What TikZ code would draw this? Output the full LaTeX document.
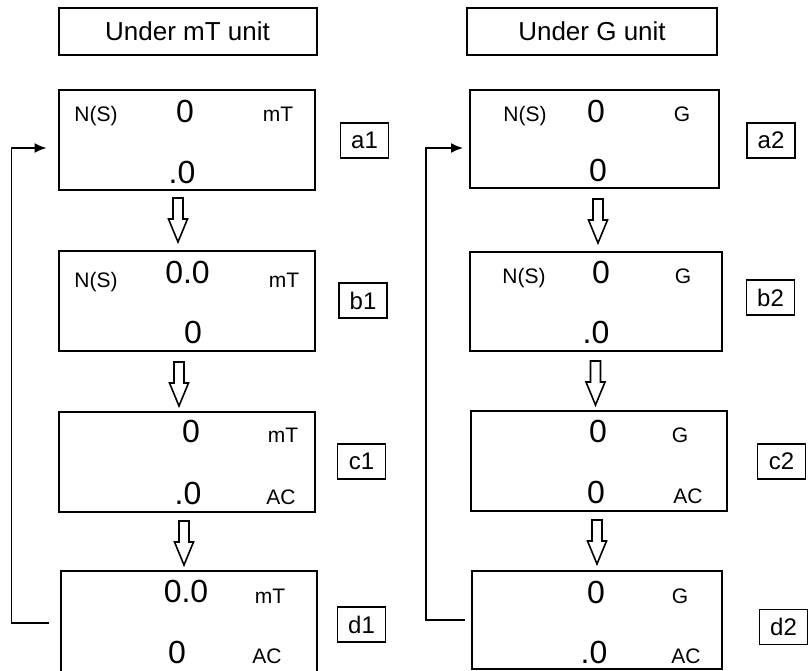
\documentclass[tikz,border=0pt]{standalone}
\usepackage{fontspec}
\setmainfont{Liberation Sans}
\usetikzlibrary{arrows.meta}
\begin{document}
\begin{tikzpicture}[x=1pt, y=-1pt, >={Latex[length=12pt,width=10pt]}, line width=2pt,
    panel/.style={draw, minimum width=256pt, minimum height=100pt},
    titlebox/.style={draw, minimum width=258pt, minimum height=47pt, font=\fontsize{26}{29}\selectfont},
    tagbox/.style={draw, line width=1.7pt, minimum width=48pt, minimum height=35pt, font=\fontsize{24}{27}\selectfont},
    big/.style={anchor=base, font=\fontsize{32}{35}\selectfont},
    small/.style={anchor=base, font=\fontsize{21}{24}\selectfont},
    downarrow/.pic={\draw[line width=1.6pt] (-5,0) -- (5,0) -- (5,21) -- (9.5,21) -- (0,44) -- (-9.5,21) -- (-5,21) -- cycle;}]
    \useasboundingbox (0,0) rectangle (808,671);

    % the two titles
    \node[titlebox] (tmT) at (187.5,31.5) {Under mT unit};
    \node[titlebox, minimum width=250pt] (tG) at (592,31.5) {Under G unit};

    % left column (mT)
    \node[panel] (a1) at (186.5,140) {};
    \node[small] at (96,122) {N(S)};
    \node[big] at (185,123) {0};
    \node[small] at (278,122) {mT};
    \node[big] at (182,184) {.0};
    \node[tagbox] (ta1) at (364.5,140.5) {a1};

    \node[panel] (b1) at (186.5,300.5) {};
    \node[small] at (96,287) {N(S)};
    \node[big] at (187.5,283) {0.0};
    \node[small] at (284,287) {mT};
    \node[big] at (193,343) {0};
    \node[tagbox] (tb1) at (363,300.5) {b1};

    \node[panel] (c1) at (187,461.5) {};
    \node[big] at (191,442) {0};
    \node[small] at (283,442) {mT};
    \node[big] at (188,504) {.0};
    \node[small] at (281,504) {AC};
    \node[tagbox] (tc1) at (361.5,461.5) {c1};

    \node[panel, minimum height=104pt] (d1) at (188.5,623) {};
    \node[big] at (186,602) {0.0};
    \node[small] at (270,603) {mT};
    \node[big] at (177,663) {0};
    \node[small] at (267,663) {AC};
    \node[tagbox] (td1) at (361.5,624.5) {d1};

    % open arrows between the left panels
    \pic at (178,198) {downarrow};
    \pic at (179,362) {downarrow};
    \pic at (184,521) {downarrow};

    % back from d1 to a1
    \draw[->, line width=1.6pt] ([xshift=-11pt]d1.west) -- ++(-37,0) |- ([xshift=-11pt,yshift=-8pt]a1.west);

    % right column (G)
    \node[panel, minimum width=249pt, minimum height=98pt] (a2) at (594.5,139) {};
    \node[small] at (525,122) {N(S)};
    \node[big] at (596,123) {0};
    \node[small] at (682,122) {G};
    \node[big] at (598,182) {0};
    \node[tagbox] (ta2) at (771,140.5) {a2};

    \node[panel, minimum width=252pt, minimum height=99pt] (b2) at (596,301.5) {};
    \node[small] at (524,283) {N(S)};
    \node[big] at (601,283) {0};
    \node[small] at (683,283) {G};
    \node[big] at (596,343) {.0};
    \node[tagbox] (tb2) at (770.5,297.5) {b2};

    \node[panel] (c2) at (599,460.5) {};
    \node[big] at (598,442) {0};
    \node[small] at (680,442) {G};
    \node[big] at (596,503) {0};
    \node[small] at (688,503) {AC};
    \node[tagbox] (tc2) at (781.5,461.5) {c2};

    \node[panel, minimum width=250pt, minimum height=98pt] (d2) at (597,620) {};
    \node[big] at (596,603) {0};
    \node[small] at (680,603) {G};
    \node[big] at (594,663) {.0};
    \node[small] at (686,663) {AC};
    \node[tagbox] (td2) at (783.5,627) {d2};

    % open arrows between the right panels
    \pic at (598,199) {downarrow};
    \pic at (595.5,361) {downarrow};
    \pic at (597,520) {downarrow};

    % back from d2 to a2
    \draw[->, line width=1.6pt] ([xshift=-6pt]d2.west) -- ++(-39,0) |- ([xshift=-6pt,yshift=-9pt]a2.west);
\end{tikzpicture}
\end{document}
